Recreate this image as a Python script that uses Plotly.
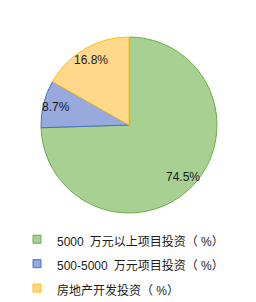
import math
import plotly.graph_objects as go

labels = ["5000\u2002万元以上项目投资（ %）", "500-5000\u2002万元项目投资（ %）", "房地产开发投资（ %）"]
values = [74.5, 8.7, 16.8]
text_labels = ["74.5%", "8.7%", "16.8%"]

fill_colors = ["#a8d092", "#97a9dd", "#ffd88c"]
line_colors = ["#6fac46", "#4472c4", "#ffc000"]

W, H = 256, 302
cx, cy, r = 129, 125, 88
label_r = 0.85

fig = go.Figure()
fig.add_trace(go.Pie(
    labels=labels,
    values=values,
    textinfo="none",
    sort=False,
    direction="clockwise",
    rotation=0,
    showlegend=False,
    marker=dict(colors=fill_colors, line=dict(color=line_colors, width=1)),
    domain=dict(x=[(cx - r) / W, (cx + r) / W], y=[1 - (cy + r) / H, 1 - (cy - r) / H]),
    hoverinfo="label+value",
))

# legend entries (small square swatches like the original)
for lab, fc, lc in zip(labels, fill_colors, line_colors):
    fig.add_trace(go.Scatter(
        x=[None], y=[None], mode="markers", name=f'<span style="font-size:12px">{lab}</span>',
        marker=dict(symbol="square", size=8, color=fc, line=dict(color=lc, width=1)),
        showlegend=True, hoverinfo="skip",
    ))

# percentage labels, placed along each slice's mid-angle
total = sum(values)
cum = 0.0
annotations = []
for v, t in zip(values, text_labels):
    mid = (cum + v / 2) / total * 2 * math.pi
    cum += v
    px = cx + label_r * r * math.sin(mid)
    py = cy - label_r * r * math.cos(mid)
    annotations.append(dict(
        x=px / W, y=1 - py / H, xref="paper", yref="paper",
        text=t, showarrow=False, xanchor="center", yanchor="middle",
        font=dict(family="Liberation Sans, Arial", size=12, color="#1a1a1a"),
    ))

fig.update_layout(
    width=W, height=H,
    margin=dict(l=0, r=0, t=0, b=0, autoexpand=False),
    paper_bgcolor="white",
    plot_bgcolor="white",
    xaxis=dict(visible=False),
    yaxis=dict(visible=False),
    annotations=annotations,
    showlegend=True,
    legend=dict(
        x=17 / W, y=1 - 222 / H, xanchor="left", yanchor="top",
        font=dict(family="Liberation Sans, Noto Sans CJK SC", size=16.5, color="#1a1a1a"),
        bgcolor="rgba(0,0,0,0)", borderwidth=0,
        itemwidth=30, itemclick=False, itemdoubleclick=False,
    ),
)

fig.write_html("out.html")
